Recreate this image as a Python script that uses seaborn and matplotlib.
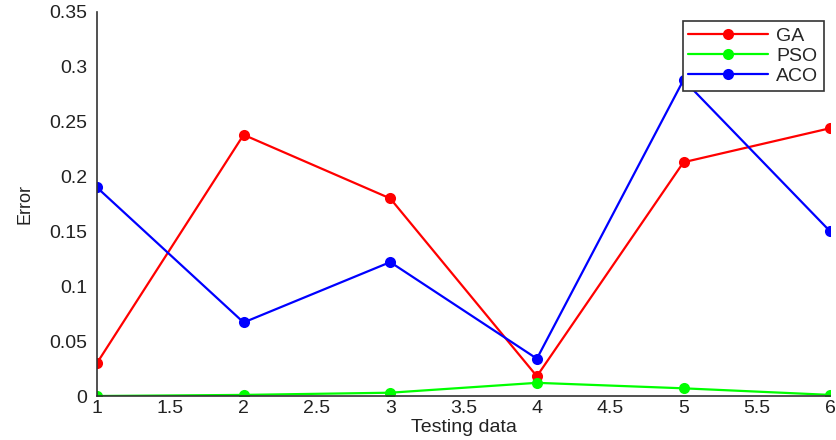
import numpy as np
import pandas as pd
import seaborn as sns
import matplotlib.pyplot as plt
from matplotlib.ticker import FuncFormatter

# datos
testing_data = [1, 2, 3, 4, 5, 6]
ga_error = [0.030, 0.238, 0.180, 0.018, 0.213, 0.244]
pso_error = [0.000, 0.001, 0.003, 0.012, 0.007, 0.001]
aco_error = [0.190, 0.067, 0.122, 0.034, 0.288, 0.150]
series_names = ["GA", "PSO", "ACO"]
series_colors = ["#ff0000", "#00ff00", "#0000ff"]
x_ticks = [1, 1.5, 2, 2.5, 3, 3.5, 4, 4.5, 5, 5.5, 6]
y_ticks = [0, 0.05, 0.1, 0.15, 0.2, 0.25, 0.3, 0.35]

df = pd.DataFrame({
    "x": testing_data * 3,
    "error": ga_error + pso_error + aco_error,
    "method": [n for n in series_names for _ in testing_data],
})

sns.set_style("white")
plt.rcParams["font.family"] = ["Liberation Sans", "DejaVu Sans"]
plt.rcParams["xtick.direction"] = "in"
plt.rcParams["ytick.direction"] = "in"

fig = plt.figure(figsize=(8.36, 4.4), dpi=100)
ax = fig.add_axes([0.116, 0.1, 0.877, 0.873])

sns.lineplot(data=df, x="x", y="error", hue="method", hue_order=series_names,
             palette=series_colors, marker="o", markersize=8, markeredgewidth=0,
             linewidth=1.6, ax=ax)

ax.set_xlim(1, 6)
ax.set_ylim(0, 0.35)
ax.set_xticks(x_ticks)
ax.set_yticks(y_ticks)
ax.xaxis.set_major_formatter(FuncFormatter(lambda v, p: f"{v:g}"))
ax.yaxis.set_major_formatter(FuncFormatter(lambda v, p: f"{v:g}"))
ax.tick_params(axis="both", labelsize=14, length=5, width=1, color="#333333",
               labelcolor="#222222")
ax.tick_params(axis="y", pad=7)
ax.tick_params(axis="x", pad=3)
ax.set_xlabel("Testing data", fontsize=14, labelpad=1, color="#222222")
ax.set_ylabel("Error", fontsize=13, color="#222222")
ax.yaxis.set_label_coords(-0.086, 0.5)

for side in ["top", "right"]:
    ax.spines[side].set_visible(False)
for side in ["left", "bottom"]:
    ax.spines[side].set_color("#333333")
    ax.spines[side].set_linewidth(1.2)

leg = ax.legend(loc="upper right", bbox_to_anchor=(0.9915, 0.975), fontsize=14,
                frameon=True, fancybox=False, framealpha=1, borderpad=0.3,
                labelspacing=0.12, handlelength=4.1, handletextpad=0.4,
                borderaxespad=0)
leg.get_frame().set_edgecolor("#333333")
leg.get_frame().set_linewidth(1.2)
leg.set_zorder(5)

fig.savefig("out.png", dpi=100)
